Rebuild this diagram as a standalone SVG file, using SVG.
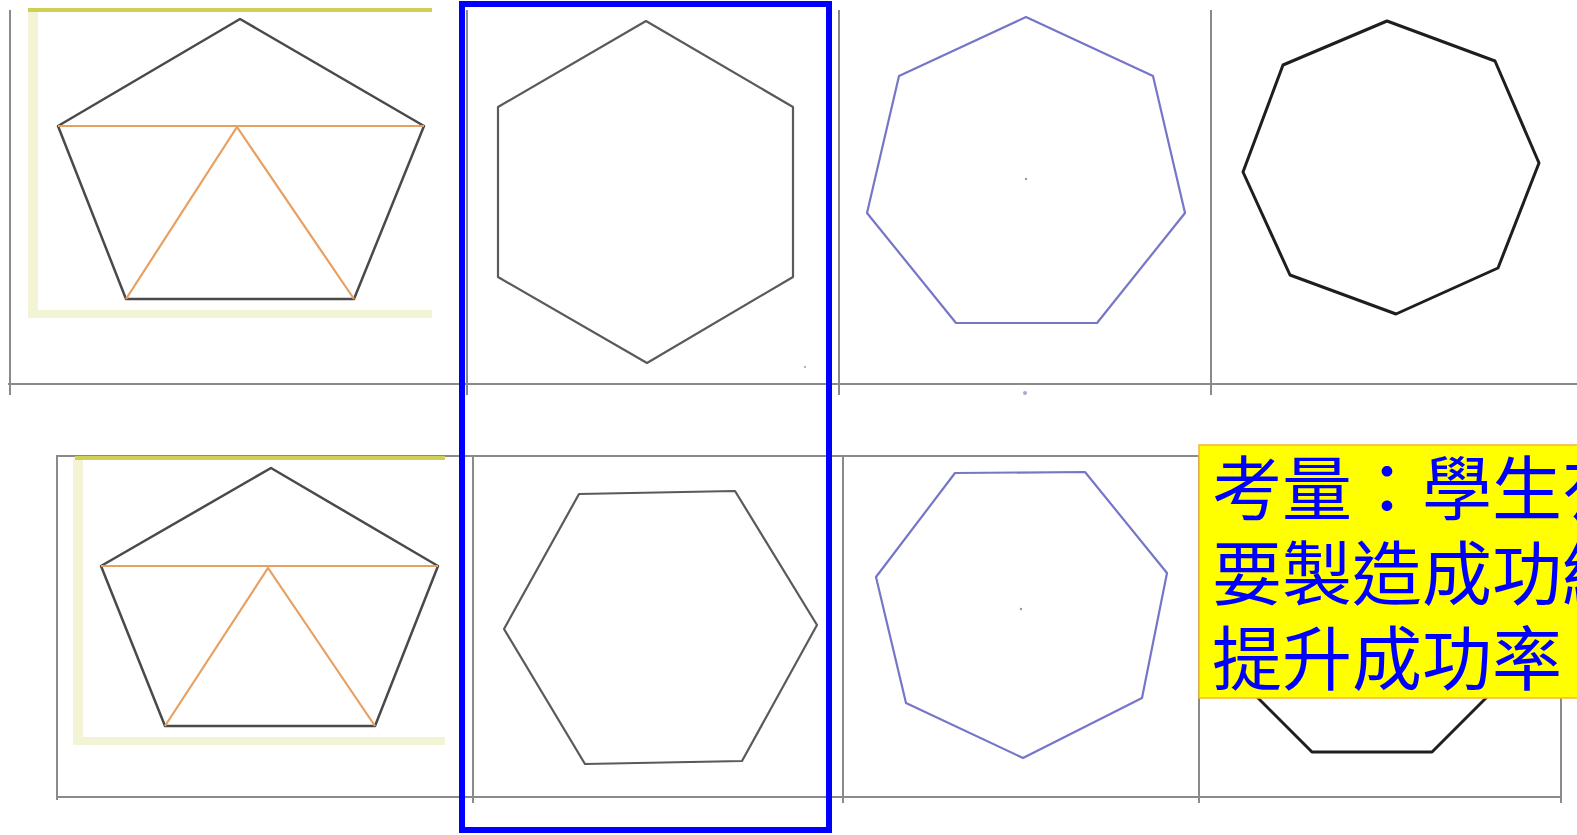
<svg xmlns="http://www.w3.org/2000/svg" width="1577" height="835" viewBox="0 0 1577 835">
<style>
.grid{stroke:#8a8a8a;stroke-width:2;fill:none}
.olive{stroke:#cfcf55;stroke-width:4;fill:none}
.pale{fill:#f3f3d6}
.pent{stroke:#4a4a4a;stroke-width:2.5;fill:none;stroke-linejoin:round}
.orange{stroke:#e8a060;stroke-width:2.2;fill:none}
.hex{stroke:#5a5a5a;stroke-width:2.2;fill:none;stroke-linejoin:round}
.hept{stroke:#7676c8;stroke-width:2.2;fill:none;stroke-linejoin:round}
.oct{stroke:#1e1e1e;stroke-width:3;fill:none;stroke-linejoin:round}
.dot{fill:#999}
.note{font-family:"Noto Sans CJK TC","Noto Sans CJK SC",sans-serif;font-size:70px;fill:#0000ff}
</style>
<rect width="1577" height="835" fill="#ffffff"/>
<g id="grid">
  <line class="grid" x1="10" y1="10" x2="10" y2="395"/>
  <line class="grid" x1="467" y1="10" x2="467" y2="395"/>
  <line class="grid" x1="839" y1="10" x2="839" y2="395"/>
  <line class="grid" x1="1211" y1="10" x2="1211" y2="395"/>
  <line class="grid" x1="8" y1="384" x2="1577" y2="384"/>
  <line class="grid" x1="57" y1="456" x2="1200" y2="456"/>
  <line class="grid" x1="57" y1="455" x2="57" y2="800"/>
  <line class="grid" x1="473" y1="456" x2="473" y2="803"/>
  <line class="grid" x1="843" y1="456" x2="843" y2="803"/>
  <line class="grid" x1="1199" y1="455" x2="1199" y2="803"/>
  <line class="grid" x1="1561" y1="690" x2="1561" y2="803"/>
  <line class="grid" x1="57" y1="797" x2="1562" y2="797"/>
</g>
<g id="pentagon-top">
  <rect class="pale" x="28" y="12" width="10" height="306"/>
  <rect class="pale" x="28" y="310" width="404" height="8"/>
  <line class="olive" x1="28" y1="10" x2="432" y2="10"/>
  <polygon class="pent" points="240,19 424,126 354,299 126,299 58,126"/>
  <polyline class="orange" points="58,126 424,126"/>
  <polyline class="orange" points="126,299 237,127 354,299"/>
</g>
<g id="hexagon-top">
  <polygon class="hex" points="646,21 793,107 793,277 647,363 498,277 498,107"/>
  <circle class="dot" cx="805" cy="367" r="1"/>
</g>
<g id="heptagon-top">
  <polygon class="hept" points="1026,17 1153,76 1185,213 1097,323 956,323 867,213 899,76"/>
  <circle class="dot" cx="1026" cy="179" r="1.2"/>
  <circle cx="1025" cy="393" r="2" fill="#8080c8" opacity="0.7"/>
</g>
<g id="octagon-top">
  <polygon class="oct" points="1387,21 1495,61 1539,163 1498,268 1396,314 1290,275 1243,172 1283,65"/>
</g>
<g id="pentagon-bottom">
  <rect class="pale" x="73" y="458" width="10" height="287"/>
  <rect class="pale" x="73" y="737" width="372" height="8"/>
  <line class="olive" x1="75" y1="458" x2="445" y2="458"/>
  <polygon class="pent" points="271,468 438,566 375,726 165,726 101,566"/>
  <polyline class="orange" points="101,566 438,566"/>
  <polyline class="orange" points="165,726 268,568 375,726"/>
</g>
<g id="hexagon-bottom">
  <polygon class="hex" points="579,494 735,491 817,625 742,761 585,764 504,629"/>
</g>
<g id="heptagon-bottom">
  <polygon class="hept" points="955,473 1085,472 1167,573 1142,698 1023,758 906,703 876,577"/>
  <circle class="dot" cx="1021" cy="609" r="1.2"/>
</g>
<g id="octagon-bottom">
  <polygon class="oct" points="1312,752 1432,752 1517,667 1517,547 1432,462 1312,462 1227,547 1227,667"/>
</g>
<g id="highlight">
  <rect x="462" y="4" width="367" height="826" fill="none" stroke="#0000ff" stroke-width="6"/>
</g>
<g id="note">
  <rect x="1199" y="445" width="390" height="253" fill="#ffff00" stroke="#f5b830" stroke-width="1.5"/>
  <text class="note" x="1212" y="515">考量：學生有</text>
  <text class="note" x="1212" y="600">要製造成功經</text>
  <text class="note" x="1212" y="685">提升成功率</text>
</g>
</svg>
